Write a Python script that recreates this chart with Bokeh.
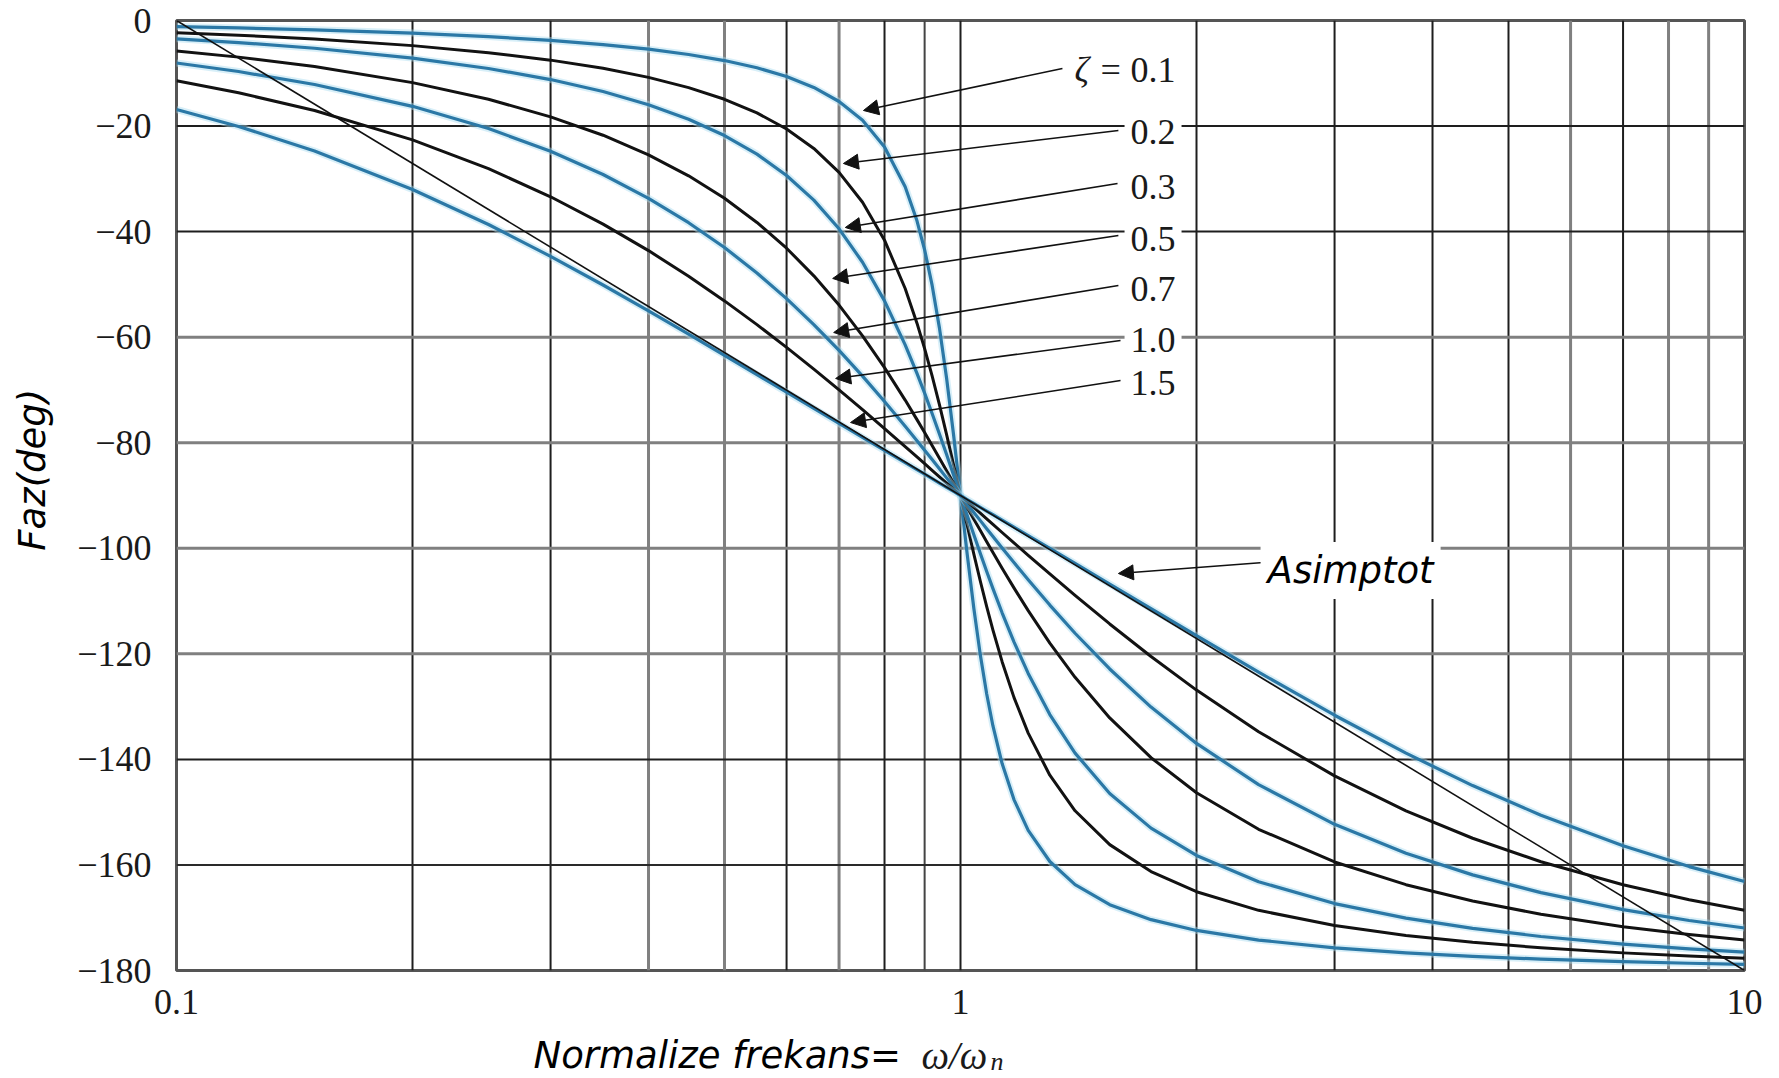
import math

from bokeh.plotting import figure
from bokeh.layouts import column, row
from bokeh.models import Range1d, FixedTicker, Span, Label, Arrow, NormalHead
from bokeh.embed import file_html
from bokeh.resources import INLINE

# ---------------------------------------------------------------------------
# Phase of a second-order system versus normalized frequency w/wn
# ---------------------------------------------------------------------------
freq_ratio = [0.1, 0.12, 0.15, 0.2, 0.25, 0.3, 0.35, 0.4, 0.45, 0.5,
              0.55, 0.6, 0.65, 0.7, 0.75, 0.8, 0.85, 0.88, 0.9, 0.92,
              0.94, 0.96, 0.98, 1.0, 1.02, 1.04, 1.06, 1.08, 1.1, 1.13,
              1.17, 1.22, 1.3, 1.4, 1.55, 1.75, 2.0, 2.4, 3.0, 3.7,
              4.5, 5.5, 7.0, 8.5, 10.0]

phase_z01 = [-1.16, -1.40, -1.76, -2.39, -3.05, -3.77, -4.56, -5.44, -6.44, -7.59,
             -8.96, -10.62, -12.69, -15.35, -18.92, -23.96, -31.49, -37.96, -43.45, -50.15,
             -58.24, -67.79, -78.58, -90.0, -101.20, -111.42, -120.24, -127.61, -133.67, -140.78,
             -147.61, -153.45, -159.35, -163.74, -167.54, -170.37, -172.41, -174.24, -175.71, -176.66,
             -177.32, -177.85, -178.33, -178.63, -178.84]

phase_z02 = [-2.31, -2.79, -3.51, -4.76, -6.09, -7.51, -9.06, -10.78, -12.72, -14.93,
             -17.51, -20.56, -24.24, -28.77, -34.44, -41.63, -50.78, -57.35, -62.18, -67.35,
             -72.80, -78.46, -84.23, -90.0, -95.65, -101.10, -106.25, -111.07, -115.51, -121.49,
             -128.25, -135.02, -143.00, -149.74, -156.15, -161.25, -165.07, -168.60, -171.47, -173.35,
             -174.66, -175.70, -176.66, -177.27, -177.69]

phase_z03 = [-3.47, -4.18, -5.26, -7.13, -9.09, -11.19, -13.46, -15.95, -18.70, -21.80,
             -25.32, -29.36, -34.03, -39.47, -45.81, -53.13, -61.45, -66.87, -70.61, -74.45,
             -78.34, -82.25, -86.15, -90.0, -93.78, -97.45, -101.00, -104.40, -107.65, -112.22,
             -117.72, -123.71, -131.50, -138.81, -146.45, -153.02, -158.20, -163.17, -167.32, -170.08,
             -172.02, -173.56, -175.00, -175.91, -176.53]

phase_z05 = [-5.77, -6.94, -8.72, -11.77, -14.93, -18.25, -21.74, -25.46, -29.43, -33.69,
             -38.26, -43.15, -48.38, -53.92, -59.74, -65.77, -71.92, -75.62, -78.08, -80.52,
             -82.94, -85.33, -87.69, -90.0, -92.27, -94.49, -96.65, -98.76, -100.81, -103.77,
             -107.50, -111.82, -117.96, -124.44, -132.14, -139.68, -146.31, -153.24, -159.44, -163.74,
             -166.84, -169.35, -171.70, -173.20, -174.23]

phase_z07 = [-8.05, -9.67, -12.13, -16.26, -20.47, -24.78, -29.18, -33.69, -38.31, -43.02,
             -47.83, -52.70, -57.61, -62.51, -67.38, -72.18, -76.87, -79.62, -81.42, -83.20,
             -84.95, -86.66, -88.35, -90.0, -91.62, -93.21, -94.76, -96.28, -97.77, -99.93,
             -102.69, -105.96, -110.76, -116.10, -122.87, -130.09, -136.98, -144.78, -152.30, -157.79,
             -161.88, -165.25, -168.46, -170.52, -171.95]

phase_z10 = [-11.42, -13.69, -17.06, -22.62, -28.07, -33.40, -38.58, -43.60, -48.46, -53.13,
             -57.62, -61.93, -66.05, -69.98, -73.74, -77.32, -80.73, -82.70, -83.97, -85.23,
             -86.46, -87.66, -88.84, -90.0, -91.13, -92.25, -93.33, -94.41, -95.45, -97.01,
             -98.97, -101.33, -104.86, -108.92, -114.34, -120.51, -126.87, -134.76, -143.13, -149.75,
             -154.94, -159.39, -163.74, -166.58, -168.58]

phase_z15 = [-16.86, -20.07, -24.72, -32.01, -38.66, -44.68, -50.12, -55.01, -59.43, -63.43,
             -67.09, -70.42, -73.50, -76.35, -79.00, -81.47, -83.79, -85.12, -85.97, -86.81,
             -87.64, -88.44, -89.23, -90.0, -90.76, -91.50, -92.23, -92.94, -93.64, -94.67,
             -96.00, -97.60, -100.03, -102.88, -106.78, -111.45, -116.57, -123.47, -131.63, -138.82,
             -144.96, -150.58, -156.37, -160.31, -163.14]

damping_labels = ["0.1", "0.2", "0.3", "0.5", "0.7", "1.0", "1.5"]

asymptote_freq = [0.1, 10.0]
asymptote_phase = [0.0, -180.0]

x_tick_values = [0.1, 1.0, 10.0]
x_tick_labels = ["0.1", "1", "10"]
y_tick_values = [0, -20, -40, -60, -80, -100, -120, -140, -160, -180]
y_tick_labels = ["0", "\u221220", "\u221240", "\u221260", "\u221280", "\u2212100",
                 "\u2212120", "\u2212140", "\u2212160", "\u2212180"]

x_grid_values = [0.2, 0.3, 0.4, 0.5, 0.6, 0.7, 0.8, 0.9, 1.0,
                 2.0, 3.0, 4.0, 5.0, 6.0, 7.0, 8.0, 9.0]
y_grid_values = [-20, -40, -60, -80, -100, -120, -140, -160]

# ---------------------------------------------------------------------------
# Styling
# ---------------------------------------------------------------------------
BLUE = "#2b78a6"
HALO = "#a9dcef"
BLACK = "#121212"
DARK_GRID = ("#1e1e1e", 2)
LIGHT_GRID = ("#808080", 3)

x_grid_styles = [DARK_GRID, DARK_GRID, LIGHT_GRID, LIGHT_GRID, DARK_GRID, LIGHT_GRID,
                 DARK_GRID, ("#444444", 2), DARK_GRID,
                 DARK_GRID, DARK_GRID, DARK_GRID, DARK_GRID, LIGHT_GRID, DARK_GRID,
                 LIGHT_GRID, LIGHT_GRID]
y_grid_styles = [DARK_GRID, DARK_GRID, LIGHT_GRID, LIGHT_GRID, LIGHT_GRID, LIGHT_GRID,
                 DARK_GRID, ("#2a2a2a", 2)]

SERIF = "Liberation Serif"
SANS = "DejaVu Sans"

TOTAL_W, TOTAL_H = 1779, 1078
LEFT_W = 60          # strip holding the vertical axis title
BOTTOM_H = 46        # strip holding the horizontal axis title
MAIN_W = TOTAL_W - LEFT_W
MAIN_H = TOTAL_H - BOTTOM_H

p = figure(width=MAIN_W, height=MAIN_H, x_axis_type="log",
           x_range=Range1d(0.1, 10), y_range=Range1d(-180, 0),
           output_backend="svg", toolbar_location=None,
           min_border_left=176 - LEFT_W, min_border_right=35,
           min_border_top=20, min_border_bottom=MAIN_H - 970)
p.background_fill_color = "white"
p.border_fill_color = "white"
p.outline_line_color = "#555555"
p.outline_line_width = 3
p.xgrid.visible = False
p.ygrid.visible = False

xa = p.xaxis[0]
ya = p.yaxis[0]
xa.ticker = FixedTicker(ticks=x_tick_values)
xa.major_label_overrides = dict(zip(x_tick_values, x_tick_labels))
ya.ticker = FixedTicker(ticks=y_tick_values)
ya.major_label_overrides = dict(zip([float(v) for v in y_tick_values], y_tick_labels))
for ax in (xa, ya):
    ax.axis_line_color = None
    ax.major_tick_line_color = None
    ax.minor_tick_line_color = None
    ax.major_tick_in = 0
    ax.major_tick_out = 0
    ax.minor_tick_in = 0
    ax.minor_tick_out = 0
    ax.major_label_text_font = SERIF
    ax.major_label_text_font_size = "36px"
    ax.major_label_text_color = "#1a1a1a"
xa.major_label_standoff = 19
ya.major_label_standoff = 25

# grid lines
for v, (c, w) in zip(x_grid_values, x_grid_styles):
    p.add_layout(Span(location=v, dimension="height", line_color=c,
                      line_width=w, level="underlay"))
for v, (c, w) in zip(y_grid_values, y_grid_styles):
    p.add_layout(Span(location=v, dimension="width", line_color=c,
                      line_width=w, level="underlay"))

# phase curves, alternating blue / black
curves = [phase_z01, phase_z02, phase_z03, phase_z05, phase_z07, phase_z10, phase_z15]
for i, phase in enumerate(curves):
    if i % 2 == 0:
        p.line(freq_ratio, phase, line_color=HALO, line_width=7, line_alpha=0.45,
               line_join="round")
        p.line(freq_ratio, phase, line_color=BLUE, line_width=3.2, line_join="round")
    else:
        p.line(freq_ratio, phase, line_color=BLACK, line_width=3.0, line_join="round")

# straight-line asymptote
p.line(asymptote_freq, asymptote_phase, line_color="#111111", line_width=1.6)


# ---------------------------------------------------------------------------
# Annotations (positions given in plot coordinates)
# ---------------------------------------------------------------------------
label_x = 1.619
label_y = [-9.47, -21.22, -31.64, -41.31, -50.78, -60.63, -68.59]
arrow_tails = [(1.349, -9.09), (1.590, -20.84), (1.586, -30.88), (1.590, -40.74),
               (1.590, -50.21), (1.600, -60.63), (1.600, -68.21)]
arrow_heads = [(0.752, -17.05), (0.709, -27.09), (0.713, -39.22), (0.687, -48.88),
               (0.689, -59.12), (0.693, -67.83), (0.724, -76.17)]


def add_arrow(tail, head):
    p.add_layout(Arrow(x_start=tail[0], y_start=tail[1], x_end=head[0], y_end=head[1],
                       line_color="#111111", line_width=1.6,
                       end=NormalHead(size=15, fill_color="#111111",
                                      line_color="#111111", line_width=1)))


for tail, head in zip(arrow_tails, arrow_heads):
    add_arrow(tail, head)

for i, (txt, y) in enumerate(zip(damping_labels, label_y)):
    p.add_layout(Label(x=label_x, y=y, text=txt, text_font=SERIF,
                       text_font_size="36px", text_color="#1a1a1a",
                       text_align="left", text_baseline="middle",
                       background_fill_color="white" if i > 0 else None,
                       padding=6))

p.add_layout(Label(x=1.609, y=-9.47, text="\u03b6 =", text_font=SERIF,
                   text_font_style="italic", text_font_size="36px",
                   text_color="#1a1a1a", text_align="right", text_baseline="middle"))

# asymptote callout
add_arrow((2.435, -102.69), (1.590, -104.78))
p.add_layout(Label(x=2.414, y=-104.21, text="Asimptot", text_font=SANS,
                   text_font_style="italic", text_font_size="37px",
                   text_color="black", text_align="left", text_baseline="middle",
                   background_fill_color="white", padding=7))


# ---------------------------------------------------------------------------
# Axis titles, drawn in narrow strips around the main plot (pixel coordinates)
# ---------------------------------------------------------------------------
def strip(w, h):
    f = figure(width=w, height=h, x_range=Range1d(0, w), y_range=Range1d(h, 0),
               output_backend="svg", toolbar_location=None,
               x_axis_location=None, y_axis_location=None,
               min_border=0, outline_line_color=None)
    f.background_fill_color = "white"
    f.border_fill_color = "white"
    f.grid.visible = False
    return f


ytitle = strip(LEFT_W, MAIN_H)
ytitle.add_layout(Label(x=32, y=488, text="Faz(deg)", text_font=SANS,
                        text_font_style="italic", text_font_size="37px",
                        text_color="black", angle=math.pi / 2,
                        text_align="center", text_baseline="middle"))

xtitle = strip(TOTAL_W, BOTTOM_H)
base = 1055 - MAIN_H
xtitle.add_layout(Label(x=533, y=base, text="Normalize frekans=", text_font=SANS,
                        text_font_style="italic", text_font_size="37px",
                        text_color="black", text_align="left", text_baseline="alphabetic"))
xtitle.add_layout(Label(x=921, y=base, text="\u03c9/\u03c9", text_font=SERIF,
                        text_font_style="italic", text_font_size="39px",
                        text_color="#1a1a1a", text_align="left", text_baseline="alphabetic"))
xtitle.add_layout(Label(x=990, y=base + 6, text="n", text_font=SERIF,
                        text_font_style="italic", text_font_size="26px",
                        text_color="#1a1a1a", text_align="left", text_baseline="alphabetic"))

layout = column(row(ytitle, p), xtitle)
open("out.html", "w").write(file_html(layout, INLINE))
